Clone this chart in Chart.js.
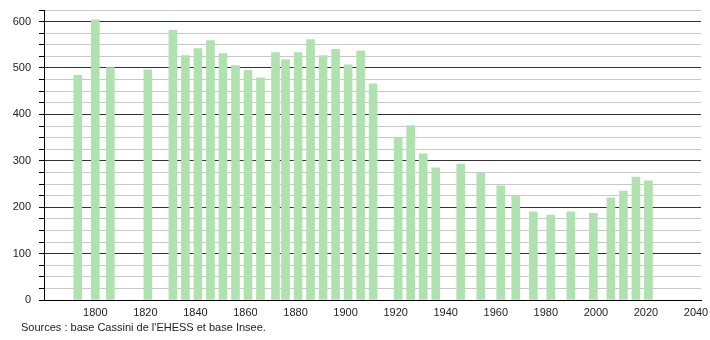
<!DOCTYPE html>
<html>
<head>
<meta charset="utf-8">
<script src="https://cdn.jsdelivr.net/npm/chart.js@4/dist/chart.umd.min.js"></script>
<style>
  body { margin: 0; background: #fff; }
  #wrap { position: relative; width: 710px; height: 340px; }
  #src { position: absolute; left: 21px; top: 321px; font: 11px "Liberation Sans", Arial, sans-serif; color: #222; }
</style>
</head>
<body>
<div id="wrap">
  <canvas id="chart" width="710" height="340"></canvas>
  <div id="src">Sources : base Cassini de l'EHESS et base Insee.</div>
</div>
<script>
const years = [1793, 1800, 1806, 1821, 1831, 1836, 1841, 1846, 1851, 1856, 1861, 1866,
  1872, 1876, 1881, 1886, 1891, 1896, 1901, 1906, 1911, 1921, 1926, 1931, 1936,
  1946, 1954, 1962, 1968, 1975, 1982, 1990, 1999, 2006, 2011, 2016, 2021];
const population = [484, 604, 501, 496, 581, 527, 542, 559, 531, 505, 495, 479,
  533, 518, 533, 561, 527, 540, 507, 537, 466, 350, 376, 315, 285,
  293, 273, 246, 224, 190, 183, 190, 187, 220, 235, 265, 257];
const xTicks = [1800, 1820, 1840, 1860, 1880, 1900, 1920, 1940, 1960, 1980, 2000, 2020, 2040];

const font = { family: "'Liberation Sans', Arial, sans-serif", size: 11 };

const ctx = document.getElementById("chart");
const chart = new Chart(ctx, {
  type: "bar",
  data: {
    datasets: [{
      data: years.map((y, i) => ({ x: y, y: population[i] })),
      backgroundColor: "rgb(176,226,176)",
      borderWidth: 0,
      barThickness: 8
    }]
  },
  options: {
    responsive: false,
    animation: false,
    layout: { padding: { top: 10, right: 9, left: 0, bottom: 0 } },
    plugins: { legend: { display: false }, tooltip: { enabled: false } },
    scales: {
      x: {
        type: "linear",
        offset: false,
        min: 1779.5,
        max: 2042,
        afterBuildTicks: s => { s.ticks = xTicks.map(v => ({ value: v })); },
        afterFit: s => { s.height = 40; s.paddingLeft = 0; s.paddingRight = 0; },
        grid: { display: true, drawOnChartArea: false, drawTicks: false },
        border: { color: "#000", width: 1 },
        ticks: { color: "#222", font, padding: 6, maxRotation: 0, autoSkip: false, callback: v => String(v) }
      },
      y: {
        min: 0,
        max: 625,
        afterBuildTicks: s => {
          const t = [];
          for (let v = 0; v <= 625; v += 25) t.push({ value: v });
          s.ticks = t;
        },
        afterFit: s => { s.width = 44; s.paddingTop = 0; s.paddingBottom = 0; },
        border: { color: "#000", width: 1 },
        grid: {
          color: c => (c.tick.value % 100 === 0 ? "#333" : "#c8c8c8"),
          tickColor: "#000",
          tickLength: 5
        },
        ticks: {
          color: "#222",
          font,
          padding: 8,
          autoSkip: false,
          callback: v => (v % 100 === 0 ? String(v) : "")
        }
      }
    }
  }
});
</script>
</body>
</html>
